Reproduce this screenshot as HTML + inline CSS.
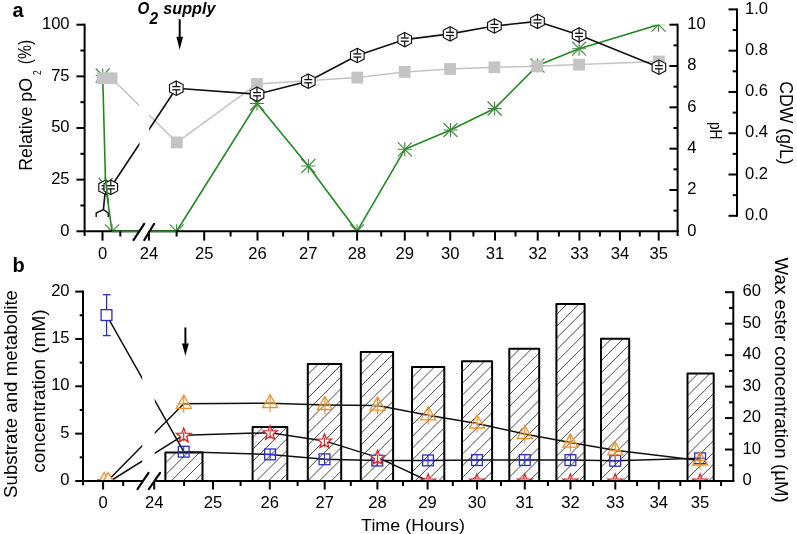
<!DOCTYPE html>
<html><head><meta charset="utf-8"><style>
html,body{margin:0;padding:0;background:#fff;}
svg{display:block;will-change:transform;}
</style></head><body>
<svg width="797" height="534" viewBox="0 0 797 534">
<rect width="797" height="534" fill="#fff"/>
<clipPath id="ca"><rect x="84.6" y="24.7" width="593" height="206.6"/></clipPath>
<g clip-path="url(#ca)">
<polyline points="102.7,75.5 105.6,185 112,231.3 176.6,231.3 257,103.5 308.3,166 357,231.3 404.8,149.3 450.5,130 494.6,108.5 537.5,65.5 579.1,48.7 658.5,24.7" fill="none" stroke="#1f8a1f" stroke-width="1.6" stroke-linejoin="round" />
<line x1="95.7" y1="75.5" x2="109.7" y2="75.5" stroke="#3a8a3a" stroke-width="1.1" stroke-linecap="butt" />
<line x1="102.7" y1="68.5" x2="102.7" y2="82.5" stroke="#3a8a3a" stroke-width="1.1" stroke-linecap="butt" />
<line x1="95.7" y1="68.5" x2="109.7" y2="82.5" stroke="#3a8a3a" stroke-width="1.1" stroke-linecap="butt" />
<line x1="95.7" y1="82.5" x2="109.7" y2="68.5" stroke="#3a8a3a" stroke-width="1.1" stroke-linecap="butt" />
<line x1="98.6" y1="185" x2="112.6" y2="185" stroke="#3a8a3a" stroke-width="1.1" stroke-linecap="butt" />
<line x1="105.6" y1="178" x2="105.6" y2="192" stroke="#3a8a3a" stroke-width="1.1" stroke-linecap="butt" />
<line x1="98.6" y1="178" x2="112.6" y2="192" stroke="#3a8a3a" stroke-width="1.1" stroke-linecap="butt" />
<line x1="98.6" y1="192" x2="112.6" y2="178" stroke="#3a8a3a" stroke-width="1.1" stroke-linecap="butt" />
<line x1="105" y1="231.3" x2="119" y2="231.3" stroke="#3a8a3a" stroke-width="1.1" stroke-linecap="butt" />
<line x1="112" y1="224.3" x2="112" y2="238.3" stroke="#3a8a3a" stroke-width="1.1" stroke-linecap="butt" />
<line x1="105" y1="224.3" x2="119" y2="238.3" stroke="#3a8a3a" stroke-width="1.1" stroke-linecap="butt" />
<line x1="105" y1="238.3" x2="119" y2="224.3" stroke="#3a8a3a" stroke-width="1.1" stroke-linecap="butt" />
<line x1="169.6" y1="231.3" x2="183.6" y2="231.3" stroke="#3a8a3a" stroke-width="1.1" stroke-linecap="butt" />
<line x1="176.6" y1="224.3" x2="176.6" y2="238.3" stroke="#3a8a3a" stroke-width="1.1" stroke-linecap="butt" />
<line x1="169.6" y1="224.3" x2="183.6" y2="238.3" stroke="#3a8a3a" stroke-width="1.1" stroke-linecap="butt" />
<line x1="169.6" y1="238.3" x2="183.6" y2="224.3" stroke="#3a8a3a" stroke-width="1.1" stroke-linecap="butt" />
<line x1="250" y1="103.5" x2="264" y2="103.5" stroke="#3a8a3a" stroke-width="1.1" stroke-linecap="butt" />
<line x1="257" y1="96.5" x2="257" y2="110.5" stroke="#3a8a3a" stroke-width="1.1" stroke-linecap="butt" />
<line x1="250" y1="96.5" x2="264" y2="110.5" stroke="#3a8a3a" stroke-width="1.1" stroke-linecap="butt" />
<line x1="250" y1="110.5" x2="264" y2="96.5" stroke="#3a8a3a" stroke-width="1.1" stroke-linecap="butt" />
<line x1="301.3" y1="166" x2="315.3" y2="166" stroke="#3a8a3a" stroke-width="1.1" stroke-linecap="butt" />
<line x1="308.3" y1="159" x2="308.3" y2="173" stroke="#3a8a3a" stroke-width="1.1" stroke-linecap="butt" />
<line x1="301.3" y1="159" x2="315.3" y2="173" stroke="#3a8a3a" stroke-width="1.1" stroke-linecap="butt" />
<line x1="301.3" y1="173" x2="315.3" y2="159" stroke="#3a8a3a" stroke-width="1.1" stroke-linecap="butt" />
<line x1="350" y1="231.3" x2="364" y2="231.3" stroke="#3a8a3a" stroke-width="1.1" stroke-linecap="butt" />
<line x1="357" y1="224.3" x2="357" y2="238.3" stroke="#3a8a3a" stroke-width="1.1" stroke-linecap="butt" />
<line x1="350" y1="224.3" x2="364" y2="238.3" stroke="#3a8a3a" stroke-width="1.1" stroke-linecap="butt" />
<line x1="350" y1="238.3" x2="364" y2="224.3" stroke="#3a8a3a" stroke-width="1.1" stroke-linecap="butt" />
<line x1="397.8" y1="149.3" x2="411.8" y2="149.3" stroke="#3a8a3a" stroke-width="1.1" stroke-linecap="butt" />
<line x1="404.8" y1="142.3" x2="404.8" y2="156.3" stroke="#3a8a3a" stroke-width="1.1" stroke-linecap="butt" />
<line x1="397.8" y1="142.3" x2="411.8" y2="156.3" stroke="#3a8a3a" stroke-width="1.1" stroke-linecap="butt" />
<line x1="397.8" y1="156.3" x2="411.8" y2="142.3" stroke="#3a8a3a" stroke-width="1.1" stroke-linecap="butt" />
<line x1="443.5" y1="130" x2="457.5" y2="130" stroke="#3a8a3a" stroke-width="1.1" stroke-linecap="butt" />
<line x1="450.5" y1="123" x2="450.5" y2="137" stroke="#3a8a3a" stroke-width="1.1" stroke-linecap="butt" />
<line x1="443.5" y1="123" x2="457.5" y2="137" stroke="#3a8a3a" stroke-width="1.1" stroke-linecap="butt" />
<line x1="443.5" y1="137" x2="457.5" y2="123" stroke="#3a8a3a" stroke-width="1.1" stroke-linecap="butt" />
<line x1="487.6" y1="108.5" x2="501.6" y2="108.5" stroke="#3a8a3a" stroke-width="1.1" stroke-linecap="butt" />
<line x1="494.6" y1="101.5" x2="494.6" y2="115.5" stroke="#3a8a3a" stroke-width="1.1" stroke-linecap="butt" />
<line x1="487.6" y1="101.5" x2="501.6" y2="115.5" stroke="#3a8a3a" stroke-width="1.1" stroke-linecap="butt" />
<line x1="487.6" y1="115.5" x2="501.6" y2="101.5" stroke="#3a8a3a" stroke-width="1.1" stroke-linecap="butt" />
<line x1="530.5" y1="65.5" x2="544.5" y2="65.5" stroke="#3a8a3a" stroke-width="1.1" stroke-linecap="butt" />
<line x1="537.5" y1="58.5" x2="537.5" y2="72.5" stroke="#3a8a3a" stroke-width="1.1" stroke-linecap="butt" />
<line x1="530.5" y1="58.5" x2="544.5" y2="72.5" stroke="#3a8a3a" stroke-width="1.1" stroke-linecap="butt" />
<line x1="530.5" y1="72.5" x2="544.5" y2="58.5" stroke="#3a8a3a" stroke-width="1.1" stroke-linecap="butt" />
<line x1="572.1" y1="48.7" x2="586.1" y2="48.7" stroke="#3a8a3a" stroke-width="1.1" stroke-linecap="butt" />
<line x1="579.1" y1="41.7" x2="579.1" y2="55.7" stroke="#3a8a3a" stroke-width="1.1" stroke-linecap="butt" />
<line x1="572.1" y1="41.7" x2="586.1" y2="55.7" stroke="#3a8a3a" stroke-width="1.1" stroke-linecap="butt" />
<line x1="572.1" y1="55.7" x2="586.1" y2="41.7" stroke="#3a8a3a" stroke-width="1.1" stroke-linecap="butt" />
<line x1="651.5" y1="24.7" x2="665.5" y2="24.7" stroke="#3a8a3a" stroke-width="1.1" stroke-linecap="butt" />
<line x1="658.5" y1="17.7" x2="658.5" y2="31.7" stroke="#3a8a3a" stroke-width="1.1" stroke-linecap="butt" />
<line x1="651.5" y1="17.7" x2="665.5" y2="31.7" stroke="#3a8a3a" stroke-width="1.1" stroke-linecap="butt" />
<line x1="651.5" y1="31.7" x2="665.5" y2="17.7" stroke="#3a8a3a" stroke-width="1.1" stroke-linecap="butt" />
<polyline points="102.5,78.2 111.5,78.2 176.8,142.4 257,84 357.3,77.6 404.7,71.9 450.1,69 494.4,67.3 537.3,66.2 579.1,64.6 658.9,61.5" fill="none" stroke="#c4c4c4" stroke-width="1.5" stroke-linejoin="round" />
<rect x="96.6" y="72.3" width="11.8" height="11.8" fill="#c4c4c4"/>
<rect x="105.6" y="72.3" width="11.8" height="11.8" fill="#c4c4c4"/>
<rect x="170.9" y="136.5" width="11.8" height="11.8" fill="#c4c4c4"/>
<rect x="251.1" y="78.1" width="11.8" height="11.8" fill="#c4c4c4"/>
<rect x="351.4" y="71.7" width="11.8" height="11.8" fill="#c4c4c4"/>
<rect x="398.8" y="66" width="11.8" height="11.8" fill="#c4c4c4"/>
<rect x="444.2" y="63.1" width="11.8" height="11.8" fill="#c4c4c4"/>
<rect x="488.5" y="61.4" width="11.8" height="11.8" fill="#c4c4c4"/>
<rect x="531.4" y="60.3" width="11.8" height="11.8" fill="#c4c4c4"/>
<rect x="573.2" y="58.7" width="11.8" height="11.8" fill="#c4c4c4"/>
<rect x="653" y="55.6" width="11.8" height="11.8" fill="#c4c4c4"/>
</g>
<polyline points="110.8,187.3 176.3,88.2 257,94.2 308.3,81.2 357.3,55.5 404.7,39.6 450.1,33.9 494.4,26 537.5,21.4 579.1,34.9 658.9,67.2" fill="none" stroke="#111" stroke-width="1.6" stroke-linejoin="round" />
<polyline points="105.6,187.3 103.4,209.6" fill="none" stroke="#111" stroke-width="1.6" stroke-linejoin="round" />
<polyline points="96.2,217 96.2,213 103.4,209.6 108.2,213 108.2,217" fill="none" stroke="#111" stroke-width="1.4" stroke-linejoin="round" />
<polygon points="105.6,180.1 112.4,183.7 112.4,190.9 105.6,194.5 98.8,190.9 98.8,183.7" fill="#fff" stroke="#111" stroke-width="1.15" />
<line x1="105.6" y1="180.1" x2="105.6" y2="185.5" stroke="#111" stroke-width="1.2" stroke-linecap="butt" />
<line x1="105.6" y1="188.8" x2="105.6" y2="194.5" stroke="#111" stroke-width="1.2" stroke-linecap="butt" />
<line x1="101.6" y1="185.7" x2="109.6" y2="185.7" stroke="#111" stroke-width="1.3" stroke-linecap="butt" />
<line x1="101.6" y1="188.9" x2="109.6" y2="188.9" stroke="#111" stroke-width="1.3" stroke-linecap="butt" />
<polygon points="110.8,180.1 117.6,183.7 117.6,190.9 110.8,194.5 104,190.9 104,183.7" fill="#fff" stroke="#111" stroke-width="1.15" />
<line x1="110.8" y1="180.1" x2="110.8" y2="185.5" stroke="#111" stroke-width="1.2" stroke-linecap="butt" />
<line x1="110.8" y1="188.8" x2="110.8" y2="194.5" stroke="#111" stroke-width="1.2" stroke-linecap="butt" />
<line x1="106.8" y1="185.7" x2="114.8" y2="185.7" stroke="#111" stroke-width="1.3" stroke-linecap="butt" />
<line x1="106.8" y1="188.9" x2="114.8" y2="188.9" stroke="#111" stroke-width="1.3" stroke-linecap="butt" />
<polygon points="176.3,81 183.1,84.6 183.1,91.8 176.3,95.4 169.5,91.8 169.5,84.6" fill="#fff" stroke="#111" stroke-width="1.15" />
<line x1="176.3" y1="81" x2="176.3" y2="86.4" stroke="#111" stroke-width="1.2" stroke-linecap="butt" />
<line x1="176.3" y1="89.7" x2="176.3" y2="95.4" stroke="#111" stroke-width="1.2" stroke-linecap="butt" />
<line x1="172.3" y1="86.6" x2="180.3" y2="86.6" stroke="#111" stroke-width="1.3" stroke-linecap="butt" />
<line x1="172.3" y1="89.8" x2="180.3" y2="89.8" stroke="#111" stroke-width="1.3" stroke-linecap="butt" />
<polygon points="257,87 263.8,90.6 263.8,97.8 257,101.4 250.2,97.8 250.2,90.6" fill="#fff" stroke="#111" stroke-width="1.15" />
<line x1="257" y1="87" x2="257" y2="92.4" stroke="#111" stroke-width="1.2" stroke-linecap="butt" />
<line x1="257" y1="95.7" x2="257" y2="101.4" stroke="#111" stroke-width="1.2" stroke-linecap="butt" />
<line x1="253" y1="92.6" x2="261" y2="92.6" stroke="#111" stroke-width="1.3" stroke-linecap="butt" />
<line x1="253" y1="95.8" x2="261" y2="95.8" stroke="#111" stroke-width="1.3" stroke-linecap="butt" />
<polygon points="308.3,74 315.1,77.6 315.1,84.8 308.3,88.4 301.5,84.8 301.5,77.6" fill="#fff" stroke="#111" stroke-width="1.15" />
<line x1="308.3" y1="74" x2="308.3" y2="79.4" stroke="#111" stroke-width="1.2" stroke-linecap="butt" />
<line x1="308.3" y1="82.7" x2="308.3" y2="88.4" stroke="#111" stroke-width="1.2" stroke-linecap="butt" />
<line x1="304.3" y1="79.6" x2="312.3" y2="79.6" stroke="#111" stroke-width="1.3" stroke-linecap="butt" />
<line x1="304.3" y1="82.8" x2="312.3" y2="82.8" stroke="#111" stroke-width="1.3" stroke-linecap="butt" />
<polygon points="357.3,48.3 364.1,51.9 364.1,59.1 357.3,62.7 350.5,59.1 350.5,51.9" fill="#fff" stroke="#111" stroke-width="1.15" />
<line x1="357.3" y1="48.3" x2="357.3" y2="53.7" stroke="#111" stroke-width="1.2" stroke-linecap="butt" />
<line x1="357.3" y1="57" x2="357.3" y2="62.7" stroke="#111" stroke-width="1.2" stroke-linecap="butt" />
<line x1="353.3" y1="53.9" x2="361.3" y2="53.9" stroke="#111" stroke-width="1.3" stroke-linecap="butt" />
<line x1="353.3" y1="57.1" x2="361.3" y2="57.1" stroke="#111" stroke-width="1.3" stroke-linecap="butt" />
<polygon points="404.7,32.4 411.5,36 411.5,43.2 404.7,46.8 397.9,43.2 397.9,36" fill="#fff" stroke="#111" stroke-width="1.15" />
<line x1="404.7" y1="32.4" x2="404.7" y2="37.8" stroke="#111" stroke-width="1.2" stroke-linecap="butt" />
<line x1="404.7" y1="41.1" x2="404.7" y2="46.8" stroke="#111" stroke-width="1.2" stroke-linecap="butt" />
<line x1="400.7" y1="38" x2="408.7" y2="38" stroke="#111" stroke-width="1.3" stroke-linecap="butt" />
<line x1="400.7" y1="41.2" x2="408.7" y2="41.2" stroke="#111" stroke-width="1.3" stroke-linecap="butt" />
<polygon points="450.1,26.7 456.9,30.3 456.9,37.5 450.1,41.1 443.3,37.5 443.3,30.3" fill="#fff" stroke="#111" stroke-width="1.15" />
<line x1="450.1" y1="26.7" x2="450.1" y2="32.1" stroke="#111" stroke-width="1.2" stroke-linecap="butt" />
<line x1="450.1" y1="35.4" x2="450.1" y2="41.1" stroke="#111" stroke-width="1.2" stroke-linecap="butt" />
<line x1="446.1" y1="32.3" x2="454.1" y2="32.3" stroke="#111" stroke-width="1.3" stroke-linecap="butt" />
<line x1="446.1" y1="35.5" x2="454.1" y2="35.5" stroke="#111" stroke-width="1.3" stroke-linecap="butt" />
<polygon points="494.4,18.8 501.2,22.4 501.2,29.6 494.4,33.2 487.6,29.6 487.6,22.4" fill="#fff" stroke="#111" stroke-width="1.15" />
<line x1="494.4" y1="18.8" x2="494.4" y2="24.2" stroke="#111" stroke-width="1.2" stroke-linecap="butt" />
<line x1="494.4" y1="27.5" x2="494.4" y2="33.2" stroke="#111" stroke-width="1.2" stroke-linecap="butt" />
<line x1="490.4" y1="24.4" x2="498.4" y2="24.4" stroke="#111" stroke-width="1.3" stroke-linecap="butt" />
<line x1="490.4" y1="27.6" x2="498.4" y2="27.6" stroke="#111" stroke-width="1.3" stroke-linecap="butt" />
<polygon points="537.5,14.2 544.3,17.8 544.3,25 537.5,28.6 530.7,25 530.7,17.8" fill="#fff" stroke="#111" stroke-width="1.15" />
<line x1="537.5" y1="14.2" x2="537.5" y2="19.6" stroke="#111" stroke-width="1.2" stroke-linecap="butt" />
<line x1="537.5" y1="22.9" x2="537.5" y2="28.6" stroke="#111" stroke-width="1.2" stroke-linecap="butt" />
<line x1="533.5" y1="19.8" x2="541.5" y2="19.8" stroke="#111" stroke-width="1.3" stroke-linecap="butt" />
<line x1="533.5" y1="23" x2="541.5" y2="23" stroke="#111" stroke-width="1.3" stroke-linecap="butt" />
<polygon points="579.1,27.7 585.9,31.3 585.9,38.5 579.1,42.1 572.3,38.5 572.3,31.3" fill="#fff" stroke="#111" stroke-width="1.15" />
<line x1="579.1" y1="27.7" x2="579.1" y2="33.1" stroke="#111" stroke-width="1.2" stroke-linecap="butt" />
<line x1="579.1" y1="36.4" x2="579.1" y2="42.1" stroke="#111" stroke-width="1.2" stroke-linecap="butt" />
<line x1="575.1" y1="33.3" x2="583.1" y2="33.3" stroke="#111" stroke-width="1.3" stroke-linecap="butt" />
<line x1="575.1" y1="36.5" x2="583.1" y2="36.5" stroke="#111" stroke-width="1.3" stroke-linecap="butt" />
<polygon points="658.9,60 665.7,63.6 665.7,70.8 658.9,74.4 652.1,70.8 652.1,63.6" fill="#fff" stroke="#111" stroke-width="1.15" />
<line x1="658.9" y1="60" x2="658.9" y2="65.4" stroke="#111" stroke-width="1.2" stroke-linecap="butt" />
<line x1="658.9" y1="68.7" x2="658.9" y2="74.4" stroke="#111" stroke-width="1.2" stroke-linecap="butt" />
<line x1="654.9" y1="65.6" x2="662.9" y2="65.6" stroke="#111" stroke-width="1.3" stroke-linecap="butt" />
<line x1="654.9" y1="68.8" x2="662.9" y2="68.8" stroke="#111" stroke-width="1.3" stroke-linecap="butt" />
<line x1="105.2" y1="177.5" x2="108.4" y2="203" stroke="#1f8a1f" stroke-width="1.6" stroke-linecap="butt" />
<polygon points="139.5,24 149.2,24 149.2,231.3 150.2,232.5 139.5,232.5" fill="#fff" stroke="none" stroke-width="1" />
<polygon points="139.3,232.5 142.5,226 152.5,226 149.3,232.5" fill="#fff" stroke="none" stroke-width="1" />
<line x1="84.6" y1="23.7" x2="84.6" y2="236" stroke="#000" stroke-width="2" stroke-linecap="butt" />
<line x1="83.6" y1="231.3" x2="139.3" y2="231.3" stroke="#000" stroke-width="2" stroke-linecap="butt" />
<line x1="149.8" y1="231.3" x2="678.6" y2="231.3" stroke="#000" stroke-width="2" stroke-linecap="butt" />
<line x1="76.4" y1="231.3" x2="84.6" y2="231.3" stroke="#000" stroke-width="2" stroke-linecap="butt" />
<text x="69.6" y="235.5" font-family="Liberation Sans" font-size="16.6" fill="#000" text-anchor="end">0</text>
<line x1="76.4" y1="179.65" x2="84.6" y2="179.65" stroke="#000" stroke-width="2" stroke-linecap="butt" />
<text x="69.6" y="183.85" font-family="Liberation Sans" font-size="16.6" fill="#000" text-anchor="end">25</text>
<line x1="76.4" y1="128" x2="84.6" y2="128" stroke="#000" stroke-width="2" stroke-linecap="butt" />
<text x="69.6" y="132.2" font-family="Liberation Sans" font-size="16.6" fill="#000" text-anchor="end">50</text>
<line x1="76.4" y1="76.35" x2="84.6" y2="76.35" stroke="#000" stroke-width="2" stroke-linecap="butt" />
<text x="69.6" y="80.55" font-family="Liberation Sans" font-size="16.6" fill="#000" text-anchor="end">75</text>
<line x1="76.4" y1="24.7" x2="84.6" y2="24.7" stroke="#000" stroke-width="2" stroke-linecap="butt" />
<text x="69.6" y="28.9" font-family="Liberation Sans" font-size="16.6" fill="#000" text-anchor="end">100</text>
<line x1="80.4" y1="205.48" x2="84.6" y2="205.48" stroke="#000" stroke-width="2" stroke-linecap="butt" />
<line x1="80.4" y1="153.82" x2="84.6" y2="153.82" stroke="#000" stroke-width="2" stroke-linecap="butt" />
<line x1="80.4" y1="102.17" x2="84.6" y2="102.17" stroke="#000" stroke-width="2" stroke-linecap="butt" />
<line x1="80.4" y1="50.52" x2="84.6" y2="50.52" stroke="#000" stroke-width="2" stroke-linecap="butt" />
<line x1="112" y1="231.3" x2="139.3" y2="231.3" stroke="#1f8a1f" stroke-width="1.8" stroke-linecap="butt" />
<line x1="149.8" y1="231.3" x2="176.6" y2="231.3" stroke="#1f8a1f" stroke-width="1.8" stroke-linecap="butt" />
<line x1="102.5" y1="231.3" x2="102.5" y2="240.6" stroke="#000" stroke-width="2" stroke-linecap="butt" />
<text x="102.5" y="258.6" font-family="Liberation Sans" font-size="16.6" fill="#000" text-anchor="middle">0</text>
<line x1="148.9" y1="231.3" x2="148.9" y2="240.6" stroke="#000" stroke-width="2" stroke-linecap="butt" />
<text x="148.9" y="258.6" font-family="Liberation Sans" font-size="16.6" fill="#000" text-anchor="middle">24</text>
<line x1="204.2" y1="231.3" x2="204.2" y2="240.6" stroke="#000" stroke-width="2" stroke-linecap="butt" />
<text x="204.2" y="258.6" font-family="Liberation Sans" font-size="16.6" fill="#000" text-anchor="middle">25</text>
<line x1="257.5" y1="231.3" x2="257.5" y2="240.6" stroke="#000" stroke-width="2" stroke-linecap="butt" />
<text x="257.5" y="258.6" font-family="Liberation Sans" font-size="16.6" fill="#000" text-anchor="middle">26</text>
<line x1="308.2" y1="231.3" x2="308.2" y2="240.6" stroke="#000" stroke-width="2" stroke-linecap="butt" />
<text x="308.2" y="258.6" font-family="Liberation Sans" font-size="16.6" fill="#000" text-anchor="middle">27</text>
<line x1="357.1" y1="231.3" x2="357.1" y2="240.6" stroke="#000" stroke-width="2" stroke-linecap="butt" />
<text x="357.1" y="258.6" font-family="Liberation Sans" font-size="16.6" fill="#000" text-anchor="middle">28</text>
<line x1="404.8" y1="231.3" x2="404.8" y2="240.6" stroke="#000" stroke-width="2" stroke-linecap="butt" />
<text x="404.8" y="258.6" font-family="Liberation Sans" font-size="16.6" fill="#000" text-anchor="middle">29</text>
<line x1="450.2" y1="231.3" x2="450.2" y2="240.6" stroke="#000" stroke-width="2" stroke-linecap="butt" />
<text x="450.2" y="258.6" font-family="Liberation Sans" font-size="16.6" fill="#000" text-anchor="middle">30</text>
<line x1="495" y1="231.3" x2="495" y2="240.6" stroke="#000" stroke-width="2" stroke-linecap="butt" />
<text x="495" y="258.6" font-family="Liberation Sans" font-size="16.6" fill="#000" text-anchor="middle">31</text>
<line x1="537.7" y1="231.3" x2="537.7" y2="240.6" stroke="#000" stroke-width="2" stroke-linecap="butt" />
<text x="537.7" y="258.6" font-family="Liberation Sans" font-size="16.6" fill="#000" text-anchor="middle">32</text>
<line x1="579.4" y1="231.3" x2="579.4" y2="240.6" stroke="#000" stroke-width="2" stroke-linecap="butt" />
<text x="579.4" y="258.6" font-family="Liberation Sans" font-size="16.6" fill="#000" text-anchor="middle">33</text>
<line x1="619.9" y1="231.3" x2="619.9" y2="240.6" stroke="#000" stroke-width="2" stroke-linecap="butt" />
<text x="619.9" y="258.6" font-family="Liberation Sans" font-size="16.6" fill="#000" text-anchor="middle">34</text>
<line x1="658.7" y1="231.3" x2="658.7" y2="240.6" stroke="#000" stroke-width="2" stroke-linecap="butt" />
<text x="658.7" y="258.6" font-family="Liberation Sans" font-size="16.6" fill="#000" text-anchor="middle">35</text>
<line x1="120.3" y1="231.3" x2="120.3" y2="236.5" stroke="#000" stroke-width="2" stroke-linecap="butt" />
<line x1="176.6" y1="231.3" x2="176.6" y2="236.5" stroke="#000" stroke-width="2" stroke-linecap="butt" />
<line x1="230.6" y1="231.3" x2="230.6" y2="236.5" stroke="#000" stroke-width="2" stroke-linecap="butt" />
<line x1="283.1" y1="231.3" x2="283.1" y2="236.5" stroke="#000" stroke-width="2" stroke-linecap="butt" />
<line x1="333.3" y1="231.3" x2="333.3" y2="236.5" stroke="#000" stroke-width="2" stroke-linecap="butt" />
<line x1="381.2" y1="231.3" x2="381.2" y2="236.5" stroke="#000" stroke-width="2" stroke-linecap="butt" />
<line x1="427.6" y1="231.3" x2="427.6" y2="236.5" stroke="#000" stroke-width="2" stroke-linecap="butt" />
<line x1="473.4" y1="231.3" x2="473.4" y2="236.5" stroke="#000" stroke-width="2" stroke-linecap="butt" />
<line x1="515.5" y1="231.3" x2="515.5" y2="236.5" stroke="#000" stroke-width="2" stroke-linecap="butt" />
<line x1="558.9" y1="231.3" x2="558.9" y2="236.5" stroke="#000" stroke-width="2" stroke-linecap="butt" />
<line x1="599.9" y1="231.3" x2="599.9" y2="236.5" stroke="#000" stroke-width="2" stroke-linecap="butt" />
<line x1="639.8" y1="231.3" x2="639.8" y2="236.5" stroke="#000" stroke-width="2" stroke-linecap="butt" />
<line x1="133.5" y1="240.1" x2="144.2" y2="223.8" stroke="#000" stroke-width="2.1" stroke-linecap="round" />
<line x1="144.2" y1="240.1" x2="154.2" y2="223.8" stroke="#000" stroke-width="2.1" stroke-linecap="round" />
<line x1="677.6" y1="23.7" x2="677.6" y2="236" stroke="#000" stroke-width="2" stroke-linecap="butt" />
<text x="687.2" y="235.5" font-family="Liberation Sans" font-size="16.6" fill="#000" text-anchor="start">0</text>
<line x1="669.4" y1="189.98" x2="677.6" y2="189.98" stroke="#000" stroke-width="2" stroke-linecap="butt" />
<text x="687.2" y="194.18" font-family="Liberation Sans" font-size="16.6" fill="#000" text-anchor="start">2</text>
<line x1="669.4" y1="148.66" x2="677.6" y2="148.66" stroke="#000" stroke-width="2" stroke-linecap="butt" />
<text x="687.2" y="152.86" font-family="Liberation Sans" font-size="16.6" fill="#000" text-anchor="start">4</text>
<line x1="669.4" y1="107.34" x2="677.6" y2="107.34" stroke="#000" stroke-width="2" stroke-linecap="butt" />
<text x="687.2" y="111.54" font-family="Liberation Sans" font-size="16.6" fill="#000" text-anchor="start">6</text>
<line x1="669.4" y1="66.02" x2="677.6" y2="66.02" stroke="#000" stroke-width="2" stroke-linecap="butt" />
<text x="687.2" y="70.22" font-family="Liberation Sans" font-size="16.6" fill="#000" text-anchor="start">8</text>
<line x1="669.4" y1="24.7" x2="677.6" y2="24.7" stroke="#000" stroke-width="2" stroke-linecap="butt" />
<text x="687.2" y="28.9" font-family="Liberation Sans" font-size="16.6" fill="#000" text-anchor="start">10</text>
<line x1="673.5" y1="210.64" x2="677.6" y2="210.64" stroke="#000" stroke-width="2" stroke-linecap="butt" />
<line x1="673.5" y1="169.32" x2="677.6" y2="169.32" stroke="#000" stroke-width="2" stroke-linecap="butt" />
<line x1="673.5" y1="128" x2="677.6" y2="128" stroke="#000" stroke-width="2" stroke-linecap="butt" />
<line x1="673.5" y1="86.68" x2="677.6" y2="86.68" stroke="#000" stroke-width="2" stroke-linecap="butt" />
<line x1="673.5" y1="45.36" x2="677.6" y2="45.36" stroke="#000" stroke-width="2" stroke-linecap="butt" />
<line x1="737" y1="8.4" x2="737" y2="216.8" stroke="#000" stroke-width="2" stroke-linecap="butt" />
<line x1="728.5" y1="215.8" x2="737" y2="215.8" stroke="#000" stroke-width="2" stroke-linecap="butt" />
<text x="745" y="219.9" font-family="Liberation Sans" font-size="16.6" fill="#000" text-anchor="start">0.0</text>
<line x1="728.5" y1="174.52" x2="737" y2="174.52" stroke="#000" stroke-width="2" stroke-linecap="butt" />
<text x="745" y="178.62" font-family="Liberation Sans" font-size="16.6" fill="#000" text-anchor="start">0.2</text>
<line x1="728.5" y1="133.24" x2="737" y2="133.24" stroke="#000" stroke-width="2" stroke-linecap="butt" />
<text x="745" y="137.34" font-family="Liberation Sans" font-size="16.6" fill="#000" text-anchor="start">0.4</text>
<line x1="728.5" y1="91.96" x2="737" y2="91.96" stroke="#000" stroke-width="2" stroke-linecap="butt" />
<text x="745" y="96.06" font-family="Liberation Sans" font-size="16.6" fill="#000" text-anchor="start">0.6</text>
<line x1="728.5" y1="50.68" x2="737" y2="50.68" stroke="#000" stroke-width="2" stroke-linecap="butt" />
<text x="745" y="54.78" font-family="Liberation Sans" font-size="16.6" fill="#000" text-anchor="start">0.8</text>
<line x1="728.5" y1="9.4" x2="737" y2="9.4" stroke="#000" stroke-width="2" stroke-linecap="butt" />
<text x="745" y="13.5" font-family="Liberation Sans" font-size="16.6" fill="#000" text-anchor="start">1.0</text>
<line x1="732.7" y1="195.16" x2="737" y2="195.16" stroke="#000" stroke-width="2" stroke-linecap="butt" />
<line x1="732.7" y1="153.88" x2="737" y2="153.88" stroke="#000" stroke-width="2" stroke-linecap="butt" />
<line x1="732.7" y1="112.6" x2="737" y2="112.6" stroke="#000" stroke-width="2" stroke-linecap="butt" />
<line x1="732.7" y1="71.32" x2="737" y2="71.32" stroke="#000" stroke-width="2" stroke-linecap="butt" />
<line x1="732.7" y1="30.04" x2="737" y2="30.04" stroke="#000" stroke-width="2" stroke-linecap="butt" />
<text x="12.5" y="16.9" font-family="Liberation Sans" font-size="20" fill="#000" text-anchor="start" font-weight="bold">a</text>
<text transform="translate(31.7,170.8) rotate(-90)" font-family="Liberation Sans" font-size="17.5" fill="#000" text-anchor="start" textLength="92.9" lengthAdjust="spacingAndGlyphs">Relative pO</text>
<text transform="translate(40.7,75) rotate(-90)" font-family="Liberation Sans" font-size="10.5" fill="#000" text-anchor="start" textLength="4.6" lengthAdjust="spacingAndGlyphs">2</text>
<text transform="translate(30.8,64.2) rotate(-90)" font-family="Liberation Sans" font-size="17.5" fill="#000" text-anchor="start" textLength="24.3" lengthAdjust="spacingAndGlyphs">(%)</text>
<text transform="translate(709.7,122) rotate(90)" font-family="Liberation Sans" font-size="16" fill="#000" text-anchor="start" textLength="17.5" lengthAdjust="spacingAndGlyphs">pH</text>
<text transform="translate(780.3,81.2) rotate(90)" font-family="Liberation Sans" font-size="17.5" fill="#000" text-anchor="start" textLength="83.4" lengthAdjust="spacingAndGlyphs">CDW (g/L)</text>
<text x="137.6" y="13.9" font-family="Liberation Sans" font-size="16.5" fill="#000" text-anchor="start" font-weight="bold" font-style="italic" textLength="11.8" lengthAdjust="spacingAndGlyphs">O</text>
<text x="149.6" y="23.9" font-family="Liberation Sans" font-size="16.5" fill="#000" text-anchor="start" font-weight="bold" font-style="italic" textLength="8.6" lengthAdjust="spacingAndGlyphs">2</text>
<text x="163.3" y="13.9" font-family="Liberation Sans" font-size="16.5" fill="#000" text-anchor="start" font-weight="bold" font-style="italic" textLength="52.2" lengthAdjust="spacingAndGlyphs">supply</text>
<line x1="179.7" y1="19.2" x2="179.7" y2="40" stroke="#000" stroke-width="2" stroke-linecap="butt" />
<polygon points="176.4,36.8 183,36.8 179.7,49.8" fill="#000" stroke="none" stroke-width="1" />
<clipPath id="bc0"><rect x="165.4" y="452.6" width="37.1" height="28.4"/></clipPath>
<g clip-path="url(#bc0)">
<line x1="135.8" y1="481" x2="164.2" y2="452.6" stroke="#484848" stroke-width="1.0" stroke-linecap="butt" />
<line x1="147.6" y1="481" x2="176" y2="452.6" stroke="#484848" stroke-width="1.0" stroke-linecap="butt" />
<line x1="159.4" y1="481" x2="187.8" y2="452.6" stroke="#484848" stroke-width="1.0" stroke-linecap="butt" />
<line x1="171.2" y1="481" x2="199.6" y2="452.6" stroke="#484848" stroke-width="1.0" stroke-linecap="butt" />
<line x1="183" y1="481" x2="211.4" y2="452.6" stroke="#484848" stroke-width="1.0" stroke-linecap="butt" />
<line x1="194.8" y1="481" x2="223.2" y2="452.6" stroke="#484848" stroke-width="1.0" stroke-linecap="butt" />
</g>
<path d="M165.4,481 L165.4,452.6 L202.5,452.6 L202.5,481" fill="none" stroke="#000" stroke-width="2" stroke-linejoin="round"/>
<clipPath id="bc1"><rect x="252.6" y="427.1" width="34.7" height="53.9"/></clipPath>
<g clip-path="url(#bc1)">
<line x1="197.5" y1="481" x2="251.4" y2="427.1" stroke="#484848" stroke-width="1.0" stroke-linecap="butt" />
<line x1="209.3" y1="481" x2="263.2" y2="427.1" stroke="#484848" stroke-width="1.0" stroke-linecap="butt" />
<line x1="221.1" y1="481" x2="275" y2="427.1" stroke="#484848" stroke-width="1.0" stroke-linecap="butt" />
<line x1="232.9" y1="481" x2="286.8" y2="427.1" stroke="#484848" stroke-width="1.0" stroke-linecap="butt" />
<line x1="244.7" y1="481" x2="298.6" y2="427.1" stroke="#484848" stroke-width="1.0" stroke-linecap="butt" />
<line x1="256.5" y1="481" x2="310.4" y2="427.1" stroke="#484848" stroke-width="1.0" stroke-linecap="butt" />
<line x1="268.3" y1="481" x2="322.2" y2="427.1" stroke="#484848" stroke-width="1.0" stroke-linecap="butt" />
<line x1="280.1" y1="481" x2="334" y2="427.1" stroke="#484848" stroke-width="1.0" stroke-linecap="butt" />
</g>
<path d="M252.6,481 L252.6,427.1 L287.3,427.1 L287.3,481" fill="none" stroke="#000" stroke-width="2" stroke-linejoin="round"/>
<clipPath id="bc2"><rect x="307.8" y="364" width="33.4" height="117"/></clipPath>
<g clip-path="url(#bc2)">
<line x1="189.6" y1="481" x2="306.6" y2="364" stroke="#484848" stroke-width="1.0" stroke-linecap="butt" />
<line x1="201.4" y1="481" x2="318.4" y2="364" stroke="#484848" stroke-width="1.0" stroke-linecap="butt" />
<line x1="213.2" y1="481" x2="330.2" y2="364" stroke="#484848" stroke-width="1.0" stroke-linecap="butt" />
<line x1="225" y1="481" x2="342" y2="364" stroke="#484848" stroke-width="1.0" stroke-linecap="butt" />
<line x1="236.8" y1="481" x2="353.8" y2="364" stroke="#484848" stroke-width="1.0" stroke-linecap="butt" />
<line x1="248.6" y1="481" x2="365.6" y2="364" stroke="#484848" stroke-width="1.0" stroke-linecap="butt" />
<line x1="260.4" y1="481" x2="377.4" y2="364" stroke="#484848" stroke-width="1.0" stroke-linecap="butt" />
<line x1="272.2" y1="481" x2="389.2" y2="364" stroke="#484848" stroke-width="1.0" stroke-linecap="butt" />
<line x1="284" y1="481" x2="401" y2="364" stroke="#484848" stroke-width="1.0" stroke-linecap="butt" />
<line x1="295.8" y1="481" x2="412.8" y2="364" stroke="#484848" stroke-width="1.0" stroke-linecap="butt" />
<line x1="307.6" y1="481" x2="424.6" y2="364" stroke="#484848" stroke-width="1.0" stroke-linecap="butt" />
<line x1="319.4" y1="481" x2="436.4" y2="364" stroke="#484848" stroke-width="1.0" stroke-linecap="butt" />
<line x1="331.2" y1="481" x2="448.2" y2="364" stroke="#484848" stroke-width="1.0" stroke-linecap="butt" />
</g>
<path d="M307.8,481 L307.8,364 L341.2,364 L341.2,481" fill="none" stroke="#000" stroke-width="2" stroke-linejoin="round"/>
<clipPath id="bc3"><rect x="360.8" y="352.1" width="32.3" height="128.9"/></clipPath>
<g clip-path="url(#bc3)">
<line x1="230.7" y1="481" x2="359.6" y2="352.1" stroke="#484848" stroke-width="1.0" stroke-linecap="butt" />
<line x1="242.5" y1="481" x2="371.4" y2="352.1" stroke="#484848" stroke-width="1.0" stroke-linecap="butt" />
<line x1="254.3" y1="481" x2="383.2" y2="352.1" stroke="#484848" stroke-width="1.0" stroke-linecap="butt" />
<line x1="266.1" y1="481" x2="395" y2="352.1" stroke="#484848" stroke-width="1.0" stroke-linecap="butt" />
<line x1="277.9" y1="481" x2="406.8" y2="352.1" stroke="#484848" stroke-width="1.0" stroke-linecap="butt" />
<line x1="289.7" y1="481" x2="418.6" y2="352.1" stroke="#484848" stroke-width="1.0" stroke-linecap="butt" />
<line x1="301.5" y1="481" x2="430.4" y2="352.1" stroke="#484848" stroke-width="1.0" stroke-linecap="butt" />
<line x1="313.3" y1="481" x2="442.2" y2="352.1" stroke="#484848" stroke-width="1.0" stroke-linecap="butt" />
<line x1="325.1" y1="481" x2="454" y2="352.1" stroke="#484848" stroke-width="1.0" stroke-linecap="butt" />
<line x1="336.9" y1="481" x2="465.8" y2="352.1" stroke="#484848" stroke-width="1.0" stroke-linecap="butt" />
<line x1="348.7" y1="481" x2="477.6" y2="352.1" stroke="#484848" stroke-width="1.0" stroke-linecap="butt" />
<line x1="360.5" y1="481" x2="489.4" y2="352.1" stroke="#484848" stroke-width="1.0" stroke-linecap="butt" />
<line x1="372.3" y1="481" x2="501.2" y2="352.1" stroke="#484848" stroke-width="1.0" stroke-linecap="butt" />
<line x1="384.1" y1="481" x2="513" y2="352.1" stroke="#484848" stroke-width="1.0" stroke-linecap="butt" />
</g>
<path d="M360.8,481 L360.8,352.1 L393.1,352.1 L393.1,481" fill="none" stroke="#000" stroke-width="2" stroke-linejoin="round"/>
<clipPath id="bc4"><rect x="412" y="367.1" width="32.3" height="113.9"/></clipPath>
<g clip-path="url(#bc4)">
<line x1="296.9" y1="481" x2="410.8" y2="367.1" stroke="#484848" stroke-width="1.0" stroke-linecap="butt" />
<line x1="308.7" y1="481" x2="422.6" y2="367.1" stroke="#484848" stroke-width="1.0" stroke-linecap="butt" />
<line x1="320.5" y1="481" x2="434.4" y2="367.1" stroke="#484848" stroke-width="1.0" stroke-linecap="butt" />
<line x1="332.3" y1="481" x2="446.2" y2="367.1" stroke="#484848" stroke-width="1.0" stroke-linecap="butt" />
<line x1="344.1" y1="481" x2="458" y2="367.1" stroke="#484848" stroke-width="1.0" stroke-linecap="butt" />
<line x1="355.9" y1="481" x2="469.8" y2="367.1" stroke="#484848" stroke-width="1.0" stroke-linecap="butt" />
<line x1="367.7" y1="481" x2="481.6" y2="367.1" stroke="#484848" stroke-width="1.0" stroke-linecap="butt" />
<line x1="379.5" y1="481" x2="493.4" y2="367.1" stroke="#484848" stroke-width="1.0" stroke-linecap="butt" />
<line x1="391.3" y1="481" x2="505.2" y2="367.1" stroke="#484848" stroke-width="1.0" stroke-linecap="butt" />
<line x1="403.1" y1="481" x2="517" y2="367.1" stroke="#484848" stroke-width="1.0" stroke-linecap="butt" />
<line x1="414.9" y1="481" x2="528.8" y2="367.1" stroke="#484848" stroke-width="1.0" stroke-linecap="butt" />
<line x1="426.7" y1="481" x2="540.6" y2="367.1" stroke="#484848" stroke-width="1.0" stroke-linecap="butt" />
<line x1="438.5" y1="481" x2="552.4" y2="367.1" stroke="#484848" stroke-width="1.0" stroke-linecap="butt" />
</g>
<path d="M412,481 L412,367.1 L444.3,367.1 L444.3,481" fill="none" stroke="#000" stroke-width="2" stroke-linejoin="round"/>
<clipPath id="bc5"><rect x="462" y="361.3" width="30.1" height="119.7"/></clipPath>
<g clip-path="url(#bc5)">
<line x1="341.1" y1="481" x2="460.8" y2="361.3" stroke="#484848" stroke-width="1.0" stroke-linecap="butt" />
<line x1="352.9" y1="481" x2="472.6" y2="361.3" stroke="#484848" stroke-width="1.0" stroke-linecap="butt" />
<line x1="364.7" y1="481" x2="484.4" y2="361.3" stroke="#484848" stroke-width="1.0" stroke-linecap="butt" />
<line x1="376.5" y1="481" x2="496.2" y2="361.3" stroke="#484848" stroke-width="1.0" stroke-linecap="butt" />
<line x1="388.3" y1="481" x2="508" y2="361.3" stroke="#484848" stroke-width="1.0" stroke-linecap="butt" />
<line x1="400.1" y1="481" x2="519.8" y2="361.3" stroke="#484848" stroke-width="1.0" stroke-linecap="butt" />
<line x1="411.9" y1="481" x2="531.6" y2="361.3" stroke="#484848" stroke-width="1.0" stroke-linecap="butt" />
<line x1="423.7" y1="481" x2="543.4" y2="361.3" stroke="#484848" stroke-width="1.0" stroke-linecap="butt" />
<line x1="435.5" y1="481" x2="555.2" y2="361.3" stroke="#484848" stroke-width="1.0" stroke-linecap="butt" />
<line x1="447.3" y1="481" x2="567" y2="361.3" stroke="#484848" stroke-width="1.0" stroke-linecap="butt" />
<line x1="459.1" y1="481" x2="578.8" y2="361.3" stroke="#484848" stroke-width="1.0" stroke-linecap="butt" />
<line x1="470.9" y1="481" x2="590.6" y2="361.3" stroke="#484848" stroke-width="1.0" stroke-linecap="butt" />
<line x1="482.7" y1="481" x2="602.4" y2="361.3" stroke="#484848" stroke-width="1.0" stroke-linecap="butt" />
</g>
<path d="M462,481 L462,361.3 L492.1,361.3 L492.1,481" fill="none" stroke="#000" stroke-width="2" stroke-linejoin="round"/>
<clipPath id="bc6"><rect x="509.3" y="348.7" width="29.9" height="132.3"/></clipPath>
<g clip-path="url(#bc6)">
<line x1="375.8" y1="481" x2="508.1" y2="348.7" stroke="#484848" stroke-width="1.0" stroke-linecap="butt" />
<line x1="387.6" y1="481" x2="519.9" y2="348.7" stroke="#484848" stroke-width="1.0" stroke-linecap="butt" />
<line x1="399.4" y1="481" x2="531.7" y2="348.7" stroke="#484848" stroke-width="1.0" stroke-linecap="butt" />
<line x1="411.2" y1="481" x2="543.5" y2="348.7" stroke="#484848" stroke-width="1.0" stroke-linecap="butt" />
<line x1="423" y1="481" x2="555.3" y2="348.7" stroke="#484848" stroke-width="1.0" stroke-linecap="butt" />
<line x1="434.8" y1="481" x2="567.1" y2="348.7" stroke="#484848" stroke-width="1.0" stroke-linecap="butt" />
<line x1="446.6" y1="481" x2="578.9" y2="348.7" stroke="#484848" stroke-width="1.0" stroke-linecap="butt" />
<line x1="458.4" y1="481" x2="590.7" y2="348.7" stroke="#484848" stroke-width="1.0" stroke-linecap="butt" />
<line x1="470.2" y1="481" x2="602.5" y2="348.7" stroke="#484848" stroke-width="1.0" stroke-linecap="butt" />
<line x1="482" y1="481" x2="614.3" y2="348.7" stroke="#484848" stroke-width="1.0" stroke-linecap="butt" />
<line x1="493.8" y1="481" x2="626.1" y2="348.7" stroke="#484848" stroke-width="1.0" stroke-linecap="butt" />
<line x1="505.6" y1="481" x2="637.9" y2="348.7" stroke="#484848" stroke-width="1.0" stroke-linecap="butt" />
<line x1="517.4" y1="481" x2="649.7" y2="348.7" stroke="#484848" stroke-width="1.0" stroke-linecap="butt" />
<line x1="529.2" y1="481" x2="661.5" y2="348.7" stroke="#484848" stroke-width="1.0" stroke-linecap="butt" />
</g>
<path d="M509.3,481 L509.3,348.7 L539.2,348.7 L539.2,481" fill="none" stroke="#000" stroke-width="2" stroke-linejoin="round"/>
<clipPath id="bc7"><rect x="556.4" y="304.1" width="28.2" height="176.9"/></clipPath>
<g clip-path="url(#bc7)">
<line x1="378.3" y1="481" x2="555.2" y2="304.1" stroke="#484848" stroke-width="1.0" stroke-linecap="butt" />
<line x1="390.1" y1="481" x2="567" y2="304.1" stroke="#484848" stroke-width="1.0" stroke-linecap="butt" />
<line x1="401.9" y1="481" x2="578.8" y2="304.1" stroke="#484848" stroke-width="1.0" stroke-linecap="butt" />
<line x1="413.7" y1="481" x2="590.6" y2="304.1" stroke="#484848" stroke-width="1.0" stroke-linecap="butt" />
<line x1="425.5" y1="481" x2="602.4" y2="304.1" stroke="#484848" stroke-width="1.0" stroke-linecap="butt" />
<line x1="437.3" y1="481" x2="614.2" y2="304.1" stroke="#484848" stroke-width="1.0" stroke-linecap="butt" />
<line x1="449.1" y1="481" x2="626" y2="304.1" stroke="#484848" stroke-width="1.0" stroke-linecap="butt" />
<line x1="460.9" y1="481" x2="637.8" y2="304.1" stroke="#484848" stroke-width="1.0" stroke-linecap="butt" />
<line x1="472.7" y1="481" x2="649.6" y2="304.1" stroke="#484848" stroke-width="1.0" stroke-linecap="butt" />
<line x1="484.5" y1="481" x2="661.4" y2="304.1" stroke="#484848" stroke-width="1.0" stroke-linecap="butt" />
<line x1="496.3" y1="481" x2="673.2" y2="304.1" stroke="#484848" stroke-width="1.0" stroke-linecap="butt" />
<line x1="508.1" y1="481" x2="685" y2="304.1" stroke="#484848" stroke-width="1.0" stroke-linecap="butt" />
<line x1="519.9" y1="481" x2="696.8" y2="304.1" stroke="#484848" stroke-width="1.0" stroke-linecap="butt" />
<line x1="531.7" y1="481" x2="708.6" y2="304.1" stroke="#484848" stroke-width="1.0" stroke-linecap="butt" />
<line x1="543.5" y1="481" x2="720.4" y2="304.1" stroke="#484848" stroke-width="1.0" stroke-linecap="butt" />
<line x1="555.3" y1="481" x2="732.2" y2="304.1" stroke="#484848" stroke-width="1.0" stroke-linecap="butt" />
<line x1="567.1" y1="481" x2="744" y2="304.1" stroke="#484848" stroke-width="1.0" stroke-linecap="butt" />
<line x1="578.9" y1="481" x2="755.8" y2="304.1" stroke="#484848" stroke-width="1.0" stroke-linecap="butt" />
</g>
<path d="M556.4,481 L556.4,304.1 L584.6,304.1 L584.6,481" fill="none" stroke="#000" stroke-width="2" stroke-linejoin="round"/>
<clipPath id="bc8"><rect x="601" y="338.7" width="28.2" height="142.3"/></clipPath>
<g clip-path="url(#bc8)">
<line x1="457.5" y1="481" x2="599.8" y2="338.7" stroke="#484848" stroke-width="1.0" stroke-linecap="butt" />
<line x1="469.3" y1="481" x2="611.6" y2="338.7" stroke="#484848" stroke-width="1.0" stroke-linecap="butt" />
<line x1="481.1" y1="481" x2="623.4" y2="338.7" stroke="#484848" stroke-width="1.0" stroke-linecap="butt" />
<line x1="492.9" y1="481" x2="635.2" y2="338.7" stroke="#484848" stroke-width="1.0" stroke-linecap="butt" />
<line x1="504.7" y1="481" x2="647" y2="338.7" stroke="#484848" stroke-width="1.0" stroke-linecap="butt" />
<line x1="516.5" y1="481" x2="658.8" y2="338.7" stroke="#484848" stroke-width="1.0" stroke-linecap="butt" />
<line x1="528.3" y1="481" x2="670.6" y2="338.7" stroke="#484848" stroke-width="1.0" stroke-linecap="butt" />
<line x1="540.1" y1="481" x2="682.4" y2="338.7" stroke="#484848" stroke-width="1.0" stroke-linecap="butt" />
<line x1="551.9" y1="481" x2="694.2" y2="338.7" stroke="#484848" stroke-width="1.0" stroke-linecap="butt" />
<line x1="563.7" y1="481" x2="706" y2="338.7" stroke="#484848" stroke-width="1.0" stroke-linecap="butt" />
<line x1="575.5" y1="481" x2="717.8" y2="338.7" stroke="#484848" stroke-width="1.0" stroke-linecap="butt" />
<line x1="587.3" y1="481" x2="729.6" y2="338.7" stroke="#484848" stroke-width="1.0" stroke-linecap="butt" />
<line x1="599.1" y1="481" x2="741.4" y2="338.7" stroke="#484848" stroke-width="1.0" stroke-linecap="butt" />
<line x1="610.9" y1="481" x2="753.2" y2="338.7" stroke="#484848" stroke-width="1.0" stroke-linecap="butt" />
<line x1="622.7" y1="481" x2="765" y2="338.7" stroke="#484848" stroke-width="1.0" stroke-linecap="butt" />
</g>
<path d="M601,481 L601,338.7 L629.2,338.7 L629.2,481" fill="none" stroke="#000" stroke-width="2" stroke-linejoin="round"/>
<clipPath id="bc9"><rect x="687.5" y="373.5" width="26.2" height="107.5"/></clipPath>
<g clip-path="url(#bc9)">
<line x1="578.8" y1="481" x2="686.3" y2="373.5" stroke="#484848" stroke-width="1.0" stroke-linecap="butt" />
<line x1="590.6" y1="481" x2="698.1" y2="373.5" stroke="#484848" stroke-width="1.0" stroke-linecap="butt" />
<line x1="602.4" y1="481" x2="709.9" y2="373.5" stroke="#484848" stroke-width="1.0" stroke-linecap="butt" />
<line x1="614.2" y1="481" x2="721.7" y2="373.5" stroke="#484848" stroke-width="1.0" stroke-linecap="butt" />
<line x1="626" y1="481" x2="733.5" y2="373.5" stroke="#484848" stroke-width="1.0" stroke-linecap="butt" />
<line x1="637.8" y1="481" x2="745.3" y2="373.5" stroke="#484848" stroke-width="1.0" stroke-linecap="butt" />
<line x1="649.6" y1="481" x2="757.1" y2="373.5" stroke="#484848" stroke-width="1.0" stroke-linecap="butt" />
<line x1="661.4" y1="481" x2="768.9" y2="373.5" stroke="#484848" stroke-width="1.0" stroke-linecap="butt" />
<line x1="673.2" y1="481" x2="780.7" y2="373.5" stroke="#484848" stroke-width="1.0" stroke-linecap="butt" />
<line x1="685" y1="481" x2="792.5" y2="373.5" stroke="#484848" stroke-width="1.0" stroke-linecap="butt" />
<line x1="696.8" y1="481" x2="804.3" y2="373.5" stroke="#484848" stroke-width="1.0" stroke-linecap="butt" />
<line x1="708.6" y1="481" x2="816.1" y2="373.5" stroke="#484848" stroke-width="1.0" stroke-linecap="butt" />
</g>
<path d="M687.5,481 L687.5,373.5 L713.7,373.5 L713.7,481" fill="none" stroke="#000" stroke-width="2" stroke-linejoin="round"/>
<clipPath id="cb"><rect x="83" y="281.6" width="650.3" height="199.4"/></clipPath>
<g clip-path="url(#cb)">
<polyline points="106.5,315.1 183.7,451.7 270.1,454.4 324.5,459.3 377.3,460.6 428,460.4 477,460.1 524.8,460.1 570.4,460.1 615.2,460.8 700.1,458.3" fill="none" stroke="#111" stroke-width="1.5" stroke-linejoin="round" />
<polyline points="110,478.5 183.7,403.8 270.1,403.2 324.9,405 377.6,405.6 428.2,415.3 477.1,423.5 524.8,434 570.4,442.6 615.2,450.3 700.1,460.5" fill="none" stroke="#111" stroke-width="1.5" stroke-linejoin="round" />
<polyline points="112,480 183.7,435.2 270.1,432.7 324.5,440.9 377.6,457.4 428.2,481 477,481 524.8,481 570.4,481 615.2,481 700.1,481" fill="none" stroke="#111" stroke-width="1.5" stroke-linejoin="round" />
</g>
<clipPath id="cb2"><rect x="83" y="281.6" width="650.3" height="199.4"/></clipPath>
<g clip-path="url(#cb2)">
<rect x="101.1" y="309.7" width="10.8" height="10.8" fill="#fff" stroke="#2d2dc8" stroke-width="1.3"/>
<rect x="178.3" y="446.3" width="10.8" height="10.8" fill="none" stroke="#2d2dc8" stroke-width="1.3"/>
<line x1="183.7" y1="446.3" x2="183.7" y2="457.1" stroke="#2d2dc8" stroke-width="1.1" stroke-linecap="butt" />
<line x1="178.3" y1="451.7" x2="189.1" y2="451.7" stroke="#2d2dc8" stroke-width="1.1" stroke-linecap="butt" />
<rect x="264.7" y="449" width="10.8" height="10.8" fill="none" stroke="#2d2dc8" stroke-width="1.3"/>
<line x1="270.1" y1="449" x2="270.1" y2="459.8" stroke="#2d2dc8" stroke-width="1.1" stroke-linecap="butt" />
<line x1="264.7" y1="454.4" x2="275.5" y2="454.4" stroke="#2d2dc8" stroke-width="1.1" stroke-linecap="butt" />
<rect x="319.1" y="453.9" width="10.8" height="10.8" fill="none" stroke="#2d2dc8" stroke-width="1.3"/>
<line x1="324.5" y1="453.9" x2="324.5" y2="464.7" stroke="#2d2dc8" stroke-width="1.1" stroke-linecap="butt" />
<line x1="319.1" y1="459.3" x2="329.9" y2="459.3" stroke="#2d2dc8" stroke-width="1.1" stroke-linecap="butt" />
<rect x="371.9" y="455.2" width="10.8" height="10.8" fill="none" stroke="#2d2dc8" stroke-width="1.3"/>
<line x1="377.3" y1="455.2" x2="377.3" y2="466" stroke="#2d2dc8" stroke-width="1.1" stroke-linecap="butt" />
<line x1="371.9" y1="460.6" x2="382.7" y2="460.6" stroke="#2d2dc8" stroke-width="1.1" stroke-linecap="butt" />
<rect x="422.6" y="455" width="10.8" height="10.8" fill="none" stroke="#2d2dc8" stroke-width="1.3"/>
<line x1="428" y1="455" x2="428" y2="465.8" stroke="#2d2dc8" stroke-width="1.1" stroke-linecap="butt" />
<line x1="422.6" y1="460.4" x2="433.4" y2="460.4" stroke="#2d2dc8" stroke-width="1.1" stroke-linecap="butt" />
<rect x="471.6" y="454.7" width="10.8" height="10.8" fill="none" stroke="#2d2dc8" stroke-width="1.3"/>
<line x1="477" y1="454.7" x2="477" y2="465.5" stroke="#2d2dc8" stroke-width="1.1" stroke-linecap="butt" />
<line x1="471.6" y1="460.1" x2="482.4" y2="460.1" stroke="#2d2dc8" stroke-width="1.1" stroke-linecap="butt" />
<rect x="519.4" y="454.7" width="10.8" height="10.8" fill="none" stroke="#2d2dc8" stroke-width="1.3"/>
<line x1="524.8" y1="454.7" x2="524.8" y2="465.5" stroke="#2d2dc8" stroke-width="1.1" stroke-linecap="butt" />
<line x1="519.4" y1="460.1" x2="530.2" y2="460.1" stroke="#2d2dc8" stroke-width="1.1" stroke-linecap="butt" />
<rect x="565" y="454.7" width="10.8" height="10.8" fill="none" stroke="#2d2dc8" stroke-width="1.3"/>
<line x1="570.4" y1="454.7" x2="570.4" y2="465.5" stroke="#2d2dc8" stroke-width="1.1" stroke-linecap="butt" />
<line x1="565" y1="460.1" x2="575.8" y2="460.1" stroke="#2d2dc8" stroke-width="1.1" stroke-linecap="butt" />
<rect x="609.8" y="455.4" width="10.8" height="10.8" fill="none" stroke="#2d2dc8" stroke-width="1.3"/>
<line x1="615.2" y1="455.4" x2="615.2" y2="466.2" stroke="#2d2dc8" stroke-width="1.1" stroke-linecap="butt" />
<line x1="609.8" y1="460.8" x2="620.6" y2="460.8" stroke="#2d2dc8" stroke-width="1.1" stroke-linecap="butt" />
<rect x="694.7" y="452.9" width="10.8" height="10.8" fill="none" stroke="#2d2dc8" stroke-width="1.3"/>
<line x1="700.1" y1="452.9" x2="700.1" y2="463.7" stroke="#2d2dc8" stroke-width="1.1" stroke-linecap="butt" />
<line x1="694.7" y1="458.3" x2="705.5" y2="458.3" stroke="#2d2dc8" stroke-width="1.1" stroke-linecap="butt" />
<polygon points="183.7,428.1 185.58,433.11 190.93,433.35 186.74,436.69 188.17,441.85 183.7,438.9 179.23,441.85 180.66,436.69 176.47,433.35 181.82,433.11" fill="#fff" stroke="#e02424" stroke-width="1.3" />
<line x1="183.7" y1="432.2" x2="183.7" y2="441.2" stroke="#e02424" stroke-width="1.1" stroke-linecap="butt" />
<polygon points="270.1,425.6 271.98,430.61 277.33,430.85 273.14,434.19 274.57,439.35 270.1,436.4 265.63,439.35 267.06,434.19 262.87,430.85 268.22,430.61" fill="#fff" stroke="#e02424" stroke-width="1.3" />
<line x1="270.1" y1="429.7" x2="270.1" y2="438.7" stroke="#e02424" stroke-width="1.1" stroke-linecap="butt" />
<polygon points="324.5,433.8 326.38,438.81 331.73,439.05 327.54,442.39 328.97,447.55 324.5,444.6 320.03,447.55 321.46,442.39 317.27,439.05 322.62,438.81" fill="#fff" stroke="#e02424" stroke-width="1.3" />
<line x1="324.5" y1="437.9" x2="324.5" y2="446.9" stroke="#e02424" stroke-width="1.1" stroke-linecap="butt" />
<polygon points="377.6,450.3 379.48,455.31 384.83,455.55 380.64,458.89 382.07,464.05 377.6,461.1 373.13,464.05 374.56,458.89 370.37,455.55 375.72,455.31" fill="#fff" stroke="#e02424" stroke-width="1.3" />
<line x1="377.6" y1="454.4" x2="377.6" y2="463.4" stroke="#e02424" stroke-width="1.1" stroke-linecap="butt" />
<polygon points="428.2,473.9 430.08,478.91 435.43,479.15 431.24,482.49 432.67,487.65 428.2,484.7 423.73,487.65 425.16,482.49 420.97,479.15 426.32,478.91" fill="#fff" stroke="#e02424" stroke-width="1.3" />
<line x1="428.2" y1="478" x2="428.2" y2="487" stroke="#e02424" stroke-width="1.1" stroke-linecap="butt" />
<polygon points="477,473.9 478.88,478.91 484.23,479.15 480.04,482.49 481.47,487.65 477,484.7 472.53,487.65 473.96,482.49 469.77,479.15 475.12,478.91" fill="#fff" stroke="#e02424" stroke-width="1.3" />
<line x1="477" y1="478" x2="477" y2="487" stroke="#e02424" stroke-width="1.1" stroke-linecap="butt" />
<polygon points="524.8,473.9 526.68,478.91 532.03,479.15 527.84,482.49 529.27,487.65 524.8,484.7 520.33,487.65 521.76,482.49 517.57,479.15 522.92,478.91" fill="#fff" stroke="#e02424" stroke-width="1.3" />
<line x1="524.8" y1="478" x2="524.8" y2="487" stroke="#e02424" stroke-width="1.1" stroke-linecap="butt" />
<polygon points="570.4,473.9 572.28,478.91 577.63,479.15 573.44,482.49 574.87,487.65 570.4,484.7 565.93,487.65 567.36,482.49 563.17,479.15 568.52,478.91" fill="#fff" stroke="#e02424" stroke-width="1.3" />
<line x1="570.4" y1="478" x2="570.4" y2="487" stroke="#e02424" stroke-width="1.1" stroke-linecap="butt" />
<polygon points="615.2,473.9 617.08,478.91 622.43,479.15 618.24,482.49 619.67,487.65 615.2,484.7 610.73,487.65 612.16,482.49 607.97,479.15 613.32,478.91" fill="#fff" stroke="#e02424" stroke-width="1.3" />
<line x1="615.2" y1="478" x2="615.2" y2="487" stroke="#e02424" stroke-width="1.1" stroke-linecap="butt" />
<polygon points="700.1,473.9 701.98,478.91 707.33,479.15 703.14,482.49 704.57,487.65 700.1,484.7 695.63,487.65 697.06,482.49 692.87,479.15 698.22,478.91" fill="#fff" stroke="#e02424" stroke-width="1.3" />
<line x1="700.1" y1="478" x2="700.1" y2="487" stroke="#e02424" stroke-width="1.1" stroke-linecap="butt" />
<line x1="97" y1="480" x2="100" y2="480" stroke="#e02424" stroke-width="1.6" stroke-linecap="butt" />
<line x1="111" y1="480" x2="114" y2="480" stroke="#e02424" stroke-width="1.6" stroke-linecap="butt" />
<polygon points="183.7,395.3 191.2,408.3 176.2,408.3" fill="none" stroke="#f0902a" stroke-width="1.3" />
<line x1="183.7" y1="395.3" x2="183.7" y2="412.8" stroke="#f0902a" stroke-width="1.2" stroke-linecap="butt" />
<line x1="179.2" y1="403.8" x2="188.2" y2="403.8" stroke="#f0902a" stroke-width="1.2" stroke-linecap="butt" />
<polygon points="270.1,394.7 277.6,407.7 262.6,407.7" fill="none" stroke="#f0902a" stroke-width="1.3" />
<line x1="270.1" y1="394.7" x2="270.1" y2="412.2" stroke="#f0902a" stroke-width="1.2" stroke-linecap="butt" />
<line x1="265.6" y1="403.2" x2="274.6" y2="403.2" stroke="#f0902a" stroke-width="1.2" stroke-linecap="butt" />
<polygon points="324.9,396.5 332.4,409.5 317.4,409.5" fill="none" stroke="#f0902a" stroke-width="1.3" />
<line x1="324.9" y1="396.5" x2="324.9" y2="414" stroke="#f0902a" stroke-width="1.2" stroke-linecap="butt" />
<line x1="320.4" y1="405" x2="329.4" y2="405" stroke="#f0902a" stroke-width="1.2" stroke-linecap="butt" />
<polygon points="377.6,397.1 385.1,410.1 370.1,410.1" fill="none" stroke="#f0902a" stroke-width="1.3" />
<line x1="377.6" y1="397.1" x2="377.6" y2="414.6" stroke="#f0902a" stroke-width="1.2" stroke-linecap="butt" />
<line x1="373.1" y1="405.6" x2="382.1" y2="405.6" stroke="#f0902a" stroke-width="1.2" stroke-linecap="butt" />
<polygon points="428.2,406.8 435.7,419.8 420.7,419.8" fill="none" stroke="#f0902a" stroke-width="1.3" />
<line x1="428.2" y1="406.8" x2="428.2" y2="424.3" stroke="#f0902a" stroke-width="1.2" stroke-linecap="butt" />
<line x1="423.7" y1="415.3" x2="432.7" y2="415.3" stroke="#f0902a" stroke-width="1.2" stroke-linecap="butt" />
<polygon points="477.1,415 484.6,428 469.6,428" fill="none" stroke="#f0902a" stroke-width="1.3" />
<line x1="477.1" y1="415" x2="477.1" y2="432.5" stroke="#f0902a" stroke-width="1.2" stroke-linecap="butt" />
<line x1="472.6" y1="423.5" x2="481.6" y2="423.5" stroke="#f0902a" stroke-width="1.2" stroke-linecap="butt" />
<polygon points="524.8,425.5 532.3,438.5 517.3,438.5" fill="none" stroke="#f0902a" stroke-width="1.3" />
<line x1="524.8" y1="425.5" x2="524.8" y2="443" stroke="#f0902a" stroke-width="1.2" stroke-linecap="butt" />
<line x1="520.3" y1="434" x2="529.3" y2="434" stroke="#f0902a" stroke-width="1.2" stroke-linecap="butt" />
<polygon points="570.4,434.1 577.9,447.1 562.9,447.1" fill="none" stroke="#f0902a" stroke-width="1.3" />
<line x1="570.4" y1="434.1" x2="570.4" y2="451.6" stroke="#f0902a" stroke-width="1.2" stroke-linecap="butt" />
<line x1="565.9" y1="442.6" x2="574.9" y2="442.6" stroke="#f0902a" stroke-width="1.2" stroke-linecap="butt" />
<polygon points="615.2,441.8 622.7,454.8 607.7,454.8" fill="none" stroke="#f0902a" stroke-width="1.3" />
<line x1="615.2" y1="441.8" x2="615.2" y2="459.3" stroke="#f0902a" stroke-width="1.2" stroke-linecap="butt" />
<line x1="610.7" y1="450.3" x2="619.7" y2="450.3" stroke="#f0902a" stroke-width="1.2" stroke-linecap="butt" />
<polygon points="700.1,452 707.6,465 692.6,465" fill="none" stroke="#f0902a" stroke-width="1.3" />
<line x1="700.1" y1="452" x2="700.1" y2="469.5" stroke="#f0902a" stroke-width="1.2" stroke-linecap="butt" />
<line x1="695.6" y1="460.5" x2="704.6" y2="460.5" stroke="#f0902a" stroke-width="1.2" stroke-linecap="butt" />
<polygon points="104.2,472.5 111.7,485.5 96.7,485.5" fill="#f4f0ea" stroke="#f0902a" stroke-width="1.3" />
<polygon points="108.2,472.5 115.7,485.5 100.7,485.5" fill="#f4f0ea" stroke="#f0902a" stroke-width="1.3" />
</g>
<line x1="106.6" y1="294.7" x2="106.6" y2="309.7" stroke="#2d2dc8" stroke-width="1.3" stroke-linecap="butt" />
<line x1="106.6" y1="320.5" x2="106.6" y2="335.6" stroke="#2d2dc8" stroke-width="1.3" stroke-linecap="butt" />
<line x1="103" y1="294.7" x2="110.6" y2="294.7" stroke="#2d2dc8" stroke-width="1.3" stroke-linecap="butt" />
<line x1="103" y1="335.6" x2="110.6" y2="335.6" stroke="#2d2dc8" stroke-width="1.3" stroke-linecap="butt" />
<polygon points="142.3,285 154.7,285 154.7,481 142.3,481" fill="#fff" stroke="none" stroke-width="1" />
<polygon points="141.5,482.2 144.5,477.5 156.2,477.5 153.5,482.2" fill="#fff" stroke="none" stroke-width="1" />
<line x1="83" y1="290.6" x2="83" y2="485.2" stroke="#000" stroke-width="2" stroke-linecap="butt" />
<line x1="82" y1="481" x2="142.3" y2="481" stroke="#000" stroke-width="2" stroke-linecap="butt" />
<line x1="155.2" y1="481" x2="734.3" y2="481" stroke="#000" stroke-width="2" stroke-linecap="butt" />
<line x1="75.2" y1="481" x2="83" y2="481" stroke="#000" stroke-width="2" stroke-linecap="butt" />
<text x="69.6" y="485" font-family="Liberation Sans" font-size="16.6" fill="#000" text-anchor="end">0</text>
<line x1="75.2" y1="433.65" x2="83" y2="433.65" stroke="#000" stroke-width="2" stroke-linecap="butt" />
<text x="69.6" y="437.65" font-family="Liberation Sans" font-size="16.6" fill="#000" text-anchor="end">5</text>
<line x1="75.2" y1="386.3" x2="83" y2="386.3" stroke="#000" stroke-width="2" stroke-linecap="butt" />
<text x="69.6" y="390.3" font-family="Liberation Sans" font-size="16.6" fill="#000" text-anchor="end">10</text>
<line x1="75.2" y1="338.95" x2="83" y2="338.95" stroke="#000" stroke-width="2" stroke-linecap="butt" />
<text x="69.6" y="342.95" font-family="Liberation Sans" font-size="16.6" fill="#000" text-anchor="end">15</text>
<line x1="75.2" y1="291.6" x2="83" y2="291.6" stroke="#000" stroke-width="2" stroke-linecap="butt" />
<text x="69.6" y="295.6" font-family="Liberation Sans" font-size="16.6" fill="#000" text-anchor="end">20</text>
<line x1="79.7" y1="457.32" x2="83" y2="457.32" stroke="#000" stroke-width="2" stroke-linecap="butt" />
<line x1="79.7" y1="409.98" x2="83" y2="409.98" stroke="#000" stroke-width="2" stroke-linecap="butt" />
<line x1="79.7" y1="362.62" x2="83" y2="362.62" stroke="#000" stroke-width="2" stroke-linecap="butt" />
<line x1="79.7" y1="315.28" x2="83" y2="315.28" stroke="#000" stroke-width="2" stroke-linecap="butt" />
<line x1="103.1" y1="481" x2="103.1" y2="489.5" stroke="#000" stroke-width="2" stroke-linecap="butt" />
<text x="103.1" y="507.6" font-family="Liberation Sans" font-size="16.6" fill="#000" text-anchor="middle">0</text>
<line x1="154.2" y1="481" x2="154.2" y2="489.5" stroke="#000" stroke-width="2" stroke-linecap="butt" />
<text x="154.2" y="507.6" font-family="Liberation Sans" font-size="16.6" fill="#000" text-anchor="middle">24</text>
<line x1="213" y1="481" x2="213" y2="489.5" stroke="#000" stroke-width="2" stroke-linecap="butt" />
<text x="213" y="507.6" font-family="Liberation Sans" font-size="16.6" fill="#000" text-anchor="middle">25</text>
<line x1="269.8" y1="481" x2="269.8" y2="489.5" stroke="#000" stroke-width="2" stroke-linecap="butt" />
<text x="269.8" y="507.6" font-family="Liberation Sans" font-size="16.6" fill="#000" text-anchor="middle">26</text>
<line x1="324.7" y1="481" x2="324.7" y2="489.5" stroke="#000" stroke-width="2" stroke-linecap="butt" />
<text x="324.7" y="507.6" font-family="Liberation Sans" font-size="16.6" fill="#000" text-anchor="middle">27</text>
<line x1="377.4" y1="481" x2="377.4" y2="489.5" stroke="#000" stroke-width="2" stroke-linecap="butt" />
<text x="377.4" y="507.6" font-family="Liberation Sans" font-size="16.6" fill="#000" text-anchor="middle">28</text>
<line x1="427.6" y1="481" x2="427.6" y2="489.5" stroke="#000" stroke-width="2" stroke-linecap="butt" />
<text x="427.6" y="507.6" font-family="Liberation Sans" font-size="16.6" fill="#000" text-anchor="middle">29</text>
<line x1="477.1" y1="481" x2="477.1" y2="489.5" stroke="#000" stroke-width="2" stroke-linecap="butt" />
<text x="477.1" y="507.6" font-family="Liberation Sans" font-size="16.6" fill="#000" text-anchor="middle">30</text>
<line x1="524.8" y1="481" x2="524.8" y2="489.5" stroke="#000" stroke-width="2" stroke-linecap="butt" />
<text x="524.8" y="507.6" font-family="Liberation Sans" font-size="16.6" fill="#000" text-anchor="middle">31</text>
<line x1="570.5" y1="481" x2="570.5" y2="489.5" stroke="#000" stroke-width="2" stroke-linecap="butt" />
<text x="570.5" y="507.6" font-family="Liberation Sans" font-size="16.6" fill="#000" text-anchor="middle">32</text>
<line x1="615.3" y1="481" x2="615.3" y2="489.5" stroke="#000" stroke-width="2" stroke-linecap="butt" />
<text x="615.3" y="507.6" font-family="Liberation Sans" font-size="16.6" fill="#000" text-anchor="middle">33</text>
<line x1="658.8" y1="481" x2="658.8" y2="489.5" stroke="#000" stroke-width="2" stroke-linecap="butt" />
<text x="658.8" y="507.6" font-family="Liberation Sans" font-size="16.6" fill="#000" text-anchor="middle">34</text>
<line x1="700.1" y1="481" x2="700.1" y2="489.5" stroke="#000" stroke-width="2" stroke-linecap="butt" />
<text x="700.1" y="507.6" font-family="Liberation Sans" font-size="16.6" fill="#000" text-anchor="middle">35</text>
<line x1="123.2" y1="481" x2="123.2" y2="486" stroke="#000" stroke-width="2" stroke-linecap="butt" />
<line x1="184.1" y1="481" x2="184.1" y2="486" stroke="#000" stroke-width="2" stroke-linecap="butt" />
<line x1="240.6" y1="481" x2="240.6" y2="486" stroke="#000" stroke-width="2" stroke-linecap="butt" />
<line x1="297.6" y1="481" x2="297.6" y2="486" stroke="#000" stroke-width="2" stroke-linecap="butt" />
<line x1="350.8" y1="481" x2="350.8" y2="486" stroke="#000" stroke-width="2" stroke-linecap="butt" />
<line x1="403" y1="481" x2="403" y2="486" stroke="#000" stroke-width="2" stroke-linecap="butt" />
<line x1="452.8" y1="481" x2="452.8" y2="486" stroke="#000" stroke-width="2" stroke-linecap="butt" />
<line x1="501" y1="481" x2="501" y2="486" stroke="#000" stroke-width="2" stroke-linecap="butt" />
<line x1="547.9" y1="481" x2="547.9" y2="486" stroke="#000" stroke-width="2" stroke-linecap="butt" />
<line x1="593.1" y1="481" x2="593.1" y2="486" stroke="#000" stroke-width="2" stroke-linecap="butt" />
<line x1="637.1" y1="481" x2="637.1" y2="486" stroke="#000" stroke-width="2" stroke-linecap="butt" />
<line x1="680.3" y1="481" x2="680.3" y2="486" stroke="#000" stroke-width="2" stroke-linecap="butt" />
<line x1="721.1" y1="481" x2="721.1" y2="486" stroke="#000" stroke-width="2" stroke-linecap="butt" />
<line x1="137.5" y1="489.2" x2="148.5" y2="472.8" stroke="#000" stroke-width="2.1" stroke-linecap="round" />
<line x1="148.8" y1="489.2" x2="160.1" y2="472.8" stroke="#000" stroke-width="2.1" stroke-linecap="round" />
<line x1="733.3" y1="291.2" x2="733.3" y2="482" stroke="#000" stroke-width="2" stroke-linecap="butt" />
<line x1="725" y1="481" x2="733.3" y2="481" stroke="#000" stroke-width="2" stroke-linecap="butt" />
<text x="742.5" y="485.2" font-family="Liberation Sans" font-size="16.6" fill="#000" text-anchor="start">0</text>
<line x1="725" y1="449.53" x2="733.3" y2="449.53" stroke="#000" stroke-width="2" stroke-linecap="butt" />
<text x="742.5" y="453.73" font-family="Liberation Sans" font-size="16.6" fill="#000" text-anchor="start">10</text>
<line x1="725" y1="418.07" x2="733.3" y2="418.07" stroke="#000" stroke-width="2" stroke-linecap="butt" />
<text x="742.5" y="422.27" font-family="Liberation Sans" font-size="16.6" fill="#000" text-anchor="start">20</text>
<line x1="725" y1="386.6" x2="733.3" y2="386.6" stroke="#000" stroke-width="2" stroke-linecap="butt" />
<text x="742.5" y="390.8" font-family="Liberation Sans" font-size="16.6" fill="#000" text-anchor="start">30</text>
<line x1="725" y1="355.13" x2="733.3" y2="355.13" stroke="#000" stroke-width="2" stroke-linecap="butt" />
<text x="742.5" y="359.33" font-family="Liberation Sans" font-size="16.6" fill="#000" text-anchor="start">40</text>
<line x1="725" y1="323.67" x2="733.3" y2="323.67" stroke="#000" stroke-width="2" stroke-linecap="butt" />
<text x="742.5" y="327.87" font-family="Liberation Sans" font-size="16.6" fill="#000" text-anchor="start">50</text>
<line x1="725" y1="292.2" x2="733.3" y2="292.2" stroke="#000" stroke-width="2" stroke-linecap="butt" />
<text x="742.5" y="296.4" font-family="Liberation Sans" font-size="16.6" fill="#000" text-anchor="start">60</text>
<line x1="729" y1="465.27" x2="733.3" y2="465.27" stroke="#000" stroke-width="2" stroke-linecap="butt" />
<line x1="729" y1="433.8" x2="733.3" y2="433.8" stroke="#000" stroke-width="2" stroke-linecap="butt" />
<line x1="729" y1="402.33" x2="733.3" y2="402.33" stroke="#000" stroke-width="2" stroke-linecap="butt" />
<line x1="729" y1="370.87" x2="733.3" y2="370.87" stroke="#000" stroke-width="2" stroke-linecap="butt" />
<line x1="729" y1="339.4" x2="733.3" y2="339.4" stroke="#000" stroke-width="2" stroke-linecap="butt" />
<line x1="729" y1="307.93" x2="733.3" y2="307.93" stroke="#000" stroke-width="2" stroke-linecap="butt" />
<text x="12.5" y="271.6" font-family="Liberation Sans" font-size="20" fill="#000" text-anchor="start" font-weight="bold">b</text>
<text transform="translate(16.9,498) rotate(-90)" font-family="Liberation Sans" font-size="18" fill="#000" text-anchor="start" textLength="208" lengthAdjust="spacingAndGlyphs">Substrate and metabolite</text>
<text transform="translate(44.9,472.8) rotate(-90)" font-family="Liberation Sans" font-size="18" fill="#000" text-anchor="start" textLength="163.5" lengthAdjust="spacingAndGlyphs">concentration (mM)</text>
<text transform="translate(775.1,257.6) rotate(90)" font-family="Liberation Sans" font-size="17.5" fill="#000" text-anchor="start" textLength="245.2" lengthAdjust="spacingAndGlyphs">Wax ester concentration (µM)</text>
<text x="361.1" y="531" font-family="Liberation Sans" font-size="16.5" fill="#000" text-anchor="start" textLength="103.9" lengthAdjust="spacingAndGlyphs">Time (Hours)</text>
<line x1="185.4" y1="327.5" x2="185.4" y2="346" stroke="#000" stroke-width="2" stroke-linecap="butt" />
<polygon points="182,343.6 188.8,343.6 185.4,355.8" fill="#000" stroke="none" stroke-width="1" />
</svg>
</body></html>
